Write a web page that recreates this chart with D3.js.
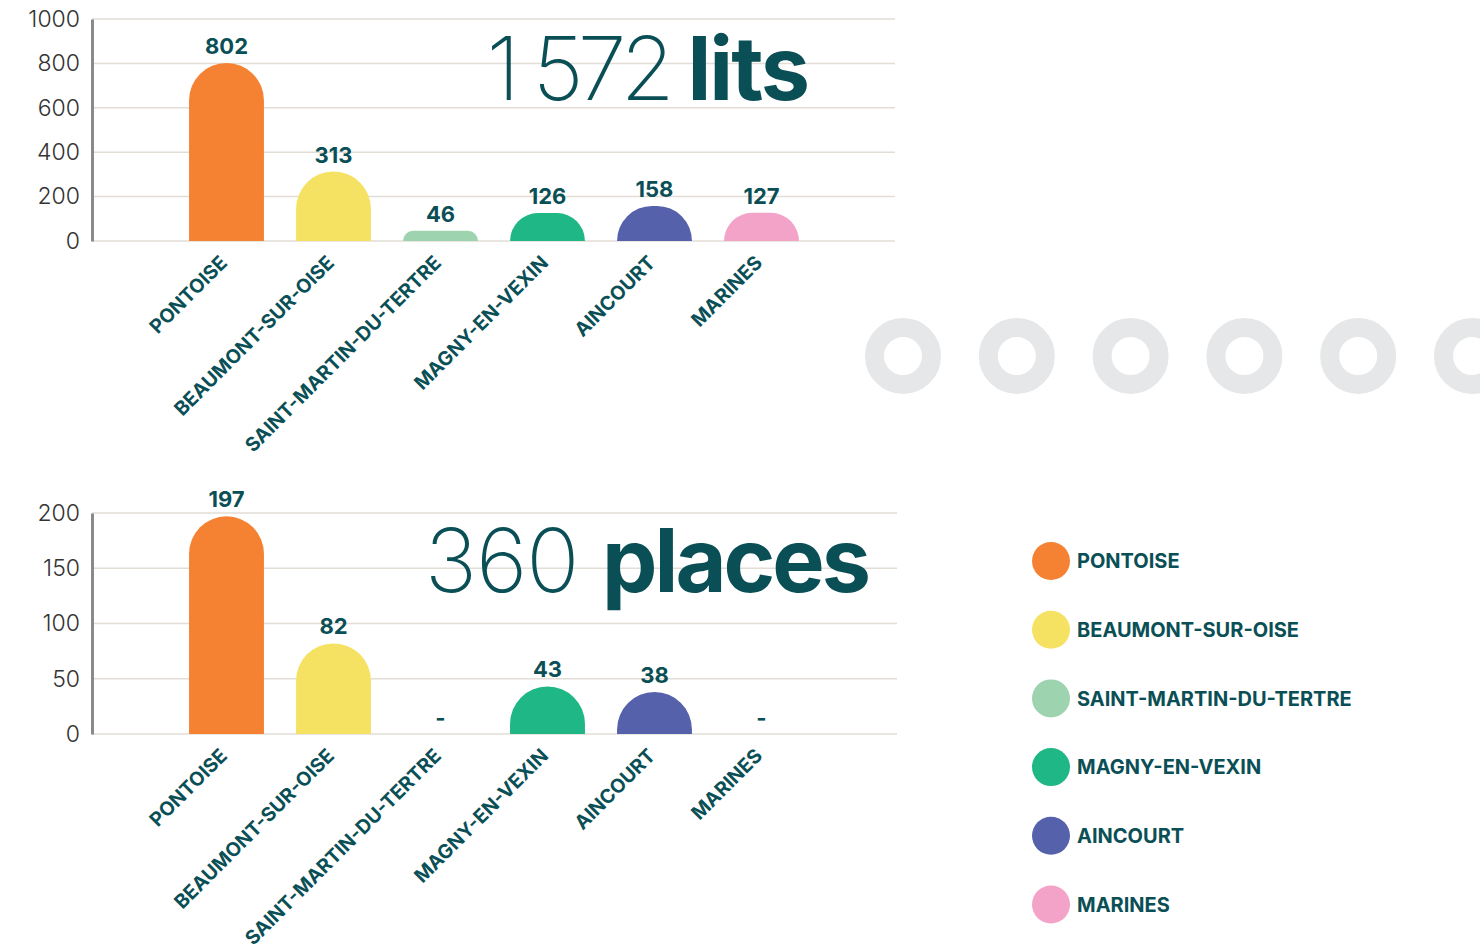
<!DOCTYPE html>
<html lang="fr">
<head>
<meta charset="UTF-8">
<title>Lits et places</title>
<script src="https://d3js.org/d3.v7.min.js"></script>
<style>
  body { margin: 0; background: #fff; }
  text { font-family: Inter, "Noto Sans", sans-serif; }
</style>
</head>
<body>
<div id="chart"></div>
<script>
// data
var categories = ["PONTOISE", "BEAUMONT-SUR-OISE", "SAINT-MARTIN-DU-TERTRE", "MAGNY-EN-VEXIN", "AINCOURT", "MARINES"];
var colors = ["#f58233", "#f5e263", "#9dd3ae", "#1fb785", "#5561aa", "#f3a3c8"];
var lits = [802, 313, 46, 126, 158, 127];
var places = [197, 82, null, 43, 38, null];
var litsTicks = [0, 200, 400, 600, 800, 1000];
var placesTicks = [0, 50, 100, 150, 200];

var teal = "#0b4f56";
var grid = "#e2ddd7";

var svg = d3.select("#chart").append("svg")
  .attr("width", 1480)
  .attr("height", 946);

var x = d3.scaleBand()
  .domain(categories)
  .range([173, 815])
  .paddingInner(0.3)
  .paddingOuter(0.15);

var color = d3.scaleOrdinal().domain(categories).range(colors);

function barPath(x0, w, base, top) {
  var h = base - top;
  var r = Math.min(w / 2, h);
  return "M" + x0 + "," + base +
    "V" + (top + r) +
    "A" + r + "," + r + " 0 0 1 " + (x0 + r) + "," + top +
    "H" + (x0 + w - r) +
    "A" + r + "," + r + " 0 0 1 " + (x0 + w) + "," + (top + r) +
    "V" + base + "Z";
}

function drawChart(opts) {
  var g = svg.append("g");
  var y = d3.scaleLinear().domain([0, d3.max(opts.ticks)]).range([opts.base, opts.top]);

  // gridlines
  g.selectAll(".grid")
    .data(opts.ticks)
    .enter().append("line")
    .attr("x1", 92).attr("x2", opts.right)
    .attr("y1", function(d) { return y(d); })
    .attr("y2", function(d) { return y(d); })
    .attr("stroke", grid)
    .attr("stroke-width", 1.5);

  // y axis
  var yAxis = d3.axisLeft(y).tickValues(opts.ticks).tickFormat(d3.format("d")).tickSize(0).tickPadding(12);
  var ya = g.append("g").attr("transform", "translate(92,0)").call(yAxis);
  ya.select(".domain").attr("stroke", "#8a8a8c").attr("stroke-width", 3);
  ya.selectAll("text")
    .attr("font-size", 23)
    .attr("font-weight", 300)
    .attr("fill", "#333")
    .attr("font-family", "Inter, sans-serif");

  // big title
  var t = g.append("text")
    .attr("x", opts.titleX)
    .attr("y", opts.titleY)
    .attr("text-anchor", "end")
    .attr("fill", teal)
    .attr("font-size", 88);
  t.append("tspan").attr("font-weight", 200).attr("letter-spacing", opts.numSpacing).text(opts.titleNum + " ");
  t.append("tspan").attr("font-weight", 700).attr("letter-spacing", opts.wordSpacing).text(opts.titleWord);

  var rows = categories.map(function(c, i) { return { cat: c, v: opts.values[i] }; });

  // bars
  g.selectAll(".bar")
    .data(rows.filter(function(d) { return d.v != null; }))
    .enter().append("path")
    .attr("fill", function(d) { return color(d.cat); })
    .attr("d", function(d) { return barPath(x(d.cat), x.bandwidth(), y(0), y(d.v)); });

  // value labels
  g.selectAll(".val")
    .data(rows)
    .enter().append("text")
    .attr("x", function(d) { return x(d.cat) + x.bandwidth() / 2; })
    .attr("y", function(d) { return d.v == null ? y(0) - 8 : y(d.v) - 9; })
    .attr("text-anchor", "middle")
    .attr("font-size", 22)
    .attr("font-weight", 700)
    .attr("fill", teal)
    .text(function(d) { return d.v == null ? "-" : d.v; });

  // x labels
  g.selectAll(".xl")
    .data(categories)
    .enter().append("text")
    .attr("transform", function(d) {
      return "translate(" + (x(d) + x.bandwidth() / 2 + 2) + "," + (opts.base + 23) + ") rotate(-45)";
    })
    .attr("text-anchor", "end")
    .attr("font-size", 19.5)
    .attr("font-weight", 700)
    .attr("fill", teal)
    .text(function(d) { return d; });
}

drawChart({ values: lits, ticks: litsTicks, base: 241, top: 19, right: 895,
  titleX: 808, titleY: 100, titleNum: "1 572", titleWord: "lits", numSpacing: -6, wordSpacing: -2 });
drawChart({ values: places, ticks: placesTicks, base: 734, top: 513, right: 897,
  titleX: 868, titleY: 592, titleNum: "360", titleWord: "places", numSpacing: -1, wordSpacing: -3 });

// decorative rings
svg.selectAll(".ring")
  .data(d3.range(6))
  .enter().append("circle")
  .attr("cx", function(i) { return 903 + i * 113.8; })
  .attr("cy", 356)
  .attr("r", 28.5)
  .attr("fill", "none")
  .attr("stroke", "#e6e7e8")
  .attr("stroke-width", 19);

// legend
var legend = svg.append("g").attr("transform", "translate(1051,561)");
var li = legend.selectAll(".li")
  .data(categories)
  .enter().append("g")
  .attr("transform", function(d, i) { return "translate(0," + (i * 68.7) + ")"; });
li.append("circle").attr("r", 19).attr("fill", function(d) { return color(d); });
li.append("text")
  .attr("x", 26)
  .attr("dy", "0.36em")
  .attr("font-size", 20)
  .attr("font-weight", 700)
  .attr("fill", teal)
  .text(function(d) { return d; });
</script>
</body>
</html>
